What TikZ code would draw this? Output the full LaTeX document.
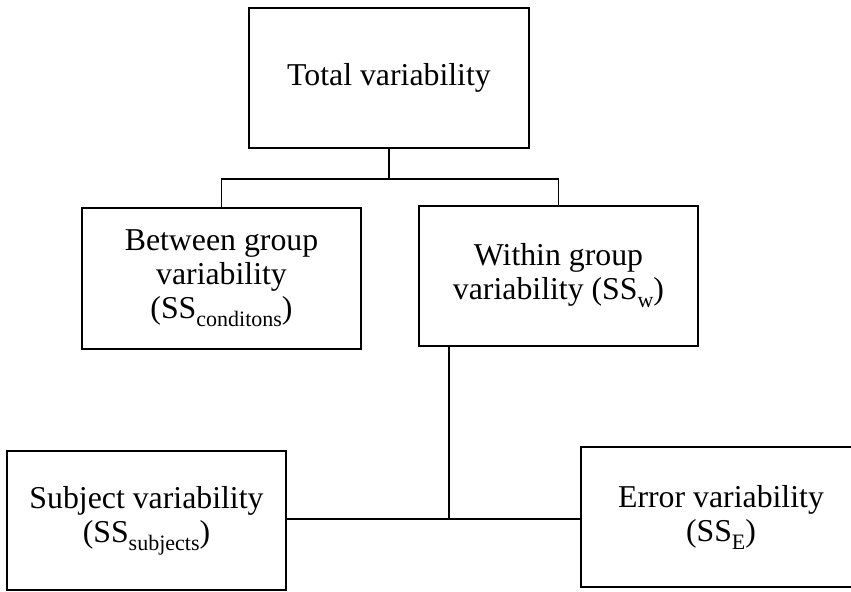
\documentclass[tikz,border=0pt]{standalone}
\usepackage{fontspec}
\setmainfont{Liberation Serif}
% lowered subscript used in the SS labels
\newcommand\sslow[1]{\raisebox{-0.55ex}{\fontsize{11}{11}\selectfont #1}}
\begin{document}
\begin{tikzpicture}[x=0.5pt,y=-0.5pt,
  box/.style={draw, line width=0.8pt, inner sep=0pt, align=center,
    font=\fontsize{15.9}{17}\selectfont},
  link/.style={draw, line width=0.7pt}]
\useasboundingbox (0,0) rectangle (851,592);
\clip (0,0) rectangle (851,592);

% boxes
\node[box, minimum width=140pt, minimum height=70pt] (total) at (389,78) {Total variability};
\node[box, minimum width=139.5pt, minimum height=70.5pt] (between) at (221.5,278.5)
  {Between group\\variability\\(SS\sslow{conditons})};
\node[box, minimum width=139.5pt, minimum height=70pt] (within) at (558.5,276)
  {Within group\\variability (SS\sslow{w})};
\node[box, minimum width=139.5pt, minimum height=69.5pt] (subject) at (146.5,520.5)
  {Subject variability\\(SS\sslow{subjects})};
\node[box, minimum width=140pt, minimum height=70pt] (error) at (721,517)
  {Error variability\\(SS\sslow{E})};

% top branching
\coordinate (split) at (389,179);
\draw[link] (total.south) -- (split);
\draw[link] (between.north) |- (split) -| (within.north);

% bottom branching
\coordinate (wfoot) at (449,346);
\coordinate (join) at (449,519);
\draw[link] (wfoot) -- (join);
\draw[link] (subject.east |- join) -- (join) -- (error.west |- join);
\end{tikzpicture}
\end{document}
